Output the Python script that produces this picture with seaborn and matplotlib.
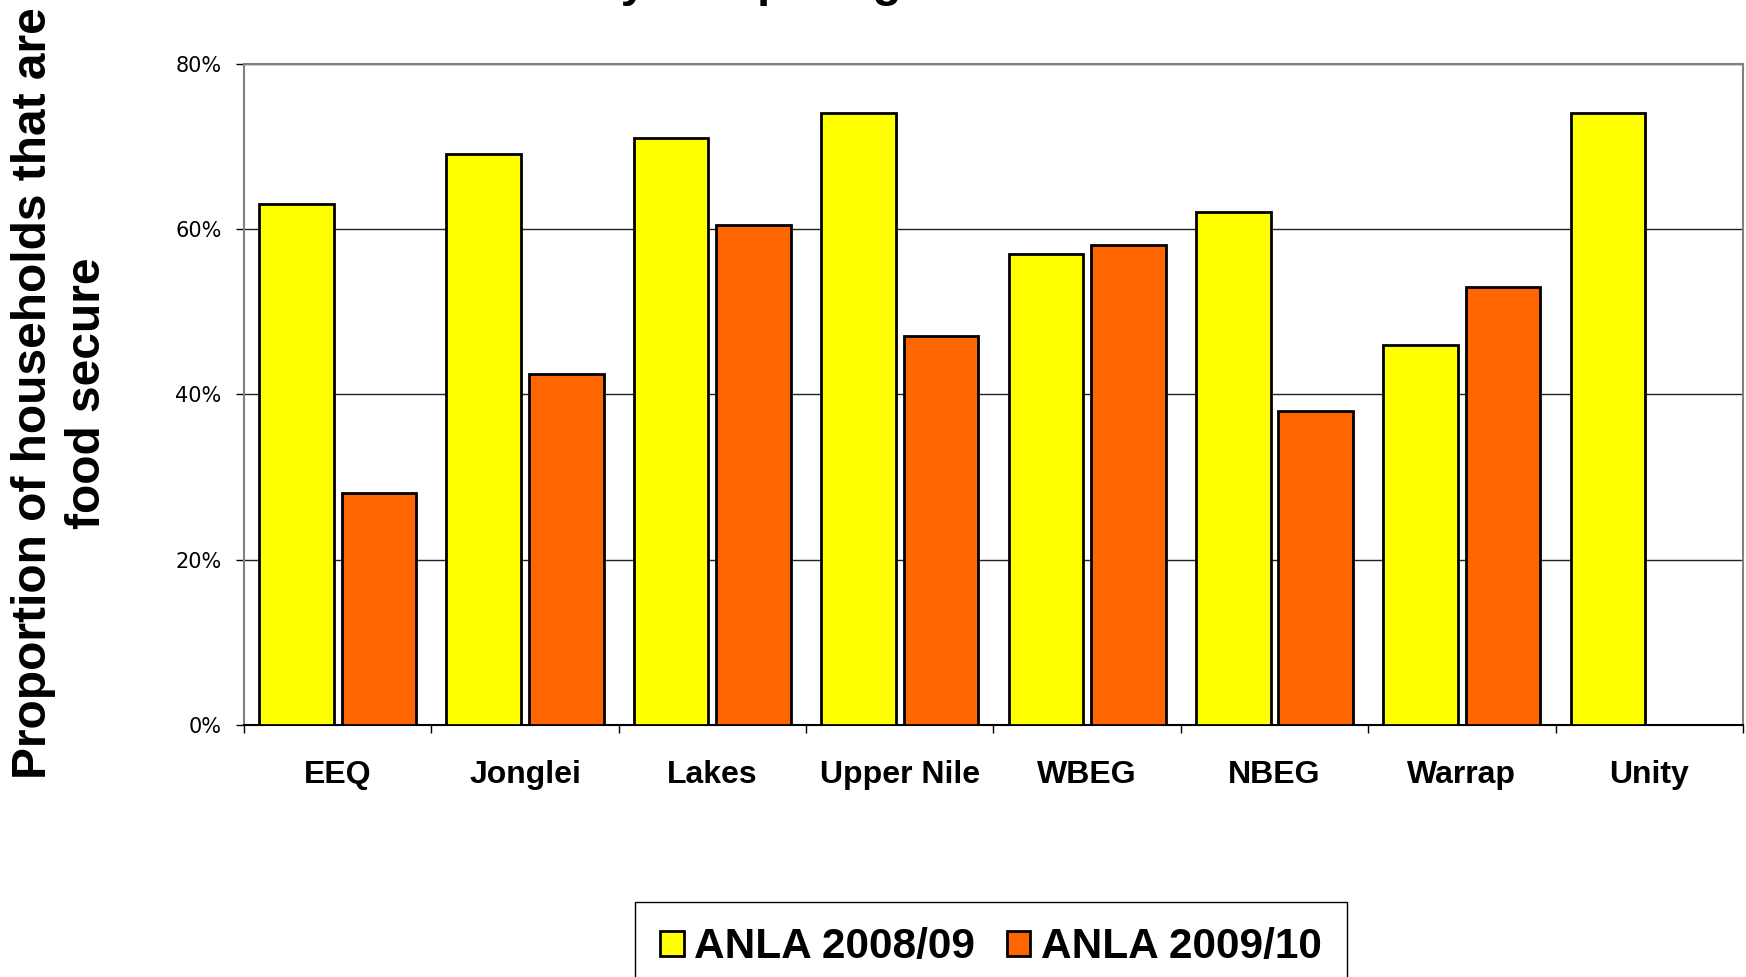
import numpy as np
import pandas as pd
import seaborn as sns
import matplotlib.pyplot as plt
from matplotlib.ticker import PercentFormatter, FixedLocator

sns.set_style("white")
plt.rcParams['font.family'] = ['Liberation Sans', 'DejaVu Sans']
plt.rcParams['text.color'] = 'black'
plt.rcParams['xtick.color'] = 'black'
plt.rcParams['ytick.color'] = 'black'
plt.rcParams['axes.labelcolor'] = 'black'

# values (percent of households food secure)
regions = ["EEQ", "Jonglei", "Lakes", "Upper Nile", "WBEG", "NBEG", "Warrap", "Unity"]
anla_0809 = [63, 69, 71, 74, 57, 62, 46, 74]
anla_0910 = [28, 42.4, 60.5, 47, 58, 38, 53, np.nan]
surveys = ["ANLA 2008/09", "ANLA 2009/10"]
y_ticks = [0, 20, 40, 60, 80]

data = pd.DataFrame({
    "region": regions * 2,
    "survey": [surveys[0]] * len(regions) + [surveys[1]] * len(regions),
    "value": anla_0809 + anla_0910,
})

fig = plt.figure(figsize=(17.46, 9.77), dpi=100)
ax = fig.add_axes([0.1397, 0.258, 0.8586, 0.677])

sns.barplot(data=data, x="region", y="value", hue="survey", order=regions,
            hue_order=surveys, palette={surveys[0]: "#FFFF00", surveys[1]: "#FF6600"},
            width=0.88, gap=0.095, errorbar=None, edgecolor="black", linewidth=2,
            saturation=1, ax=ax, zorder=3)

ax.set_ylim(0, 80)
ax.set_xlim(-0.5, len(regions) - 0.5)
ax.yaxis.set_major_locator(FixedLocator(y_ticks))
ax.yaxis.set_major_formatter(PercentFormatter(decimals=0))
ax.grid(axis="y", color="#222222", linewidth=1, zorder=0)
ax.set_axisbelow(True)
ax.set_xlabel("")
ax.set_ylabel("")

# ticks: y outward, x only at the category boundaries
ax.tick_params(axis="y", direction="out", length=6, width=1, color="black",
               labelcolor="black", pad=10, labelsize=15, left=True)
for lab in ax.get_yticklabels():
    lab.set_family("DejaVu Sans")
ax.tick_params(axis="x", which="major", length=0, pad=25, labelsize=23,
               labelcolor="black")
for lab in ax.get_xticklabels():
    lab.set_fontweight("bold")
ax.xaxis.set_minor_locator(FixedLocator(np.arange(-0.5, len(regions), 1.0)))
ax.tick_params(axis="x", which="minor", direction="out", length=6, width=1,
               color="black", bottom=True)

for side in ["top", "right", "left"]:
    ax.spines[side].set_color("#808080")
    ax.spines[side].set_linewidth(1.5)
ax.spines["bottom"].set_color("black")
ax.spines["bottom"].set_linewidth(1.5)

fig.text(0.0345, 0.598, "Proportion of households that are\nfood secure",
         rotation=90, ha="center", va="center", multialignment="center",
         fontsize=34.5, fontweight="bold", linespacing=1.25, color="black")

# title is cut off by the top edge in the original, only descenders show
fig.text(0.193, 1.004, "Food security comparing ANLA 2008/09 and 2009/10",
         ha="left", va="baseline", fontsize=34, fontweight="bold", color="black")

handles, labels = ax.get_legend_handles_labels()
leg = ax.legend(handles, labels, loc="upper center", bbox_to_anchor=(0.5676, 0.0768),
                bbox_transform=fig.transFigure, ncol=2, frameon=True, fancybox=False,
                edgecolor="black", framealpha=1, borderpad=0.6, borderaxespad=0,
                handlelength=0.55, handleheight=0.55, handletextpad=0.25,
                columnspacing=0.75, labelcolor="black",
                prop={"family": "Liberation Sans", "weight": "bold", "size": 30.5})
leg.get_frame().set_linewidth(1)

fig.savefig("out.png", dpi=100)
